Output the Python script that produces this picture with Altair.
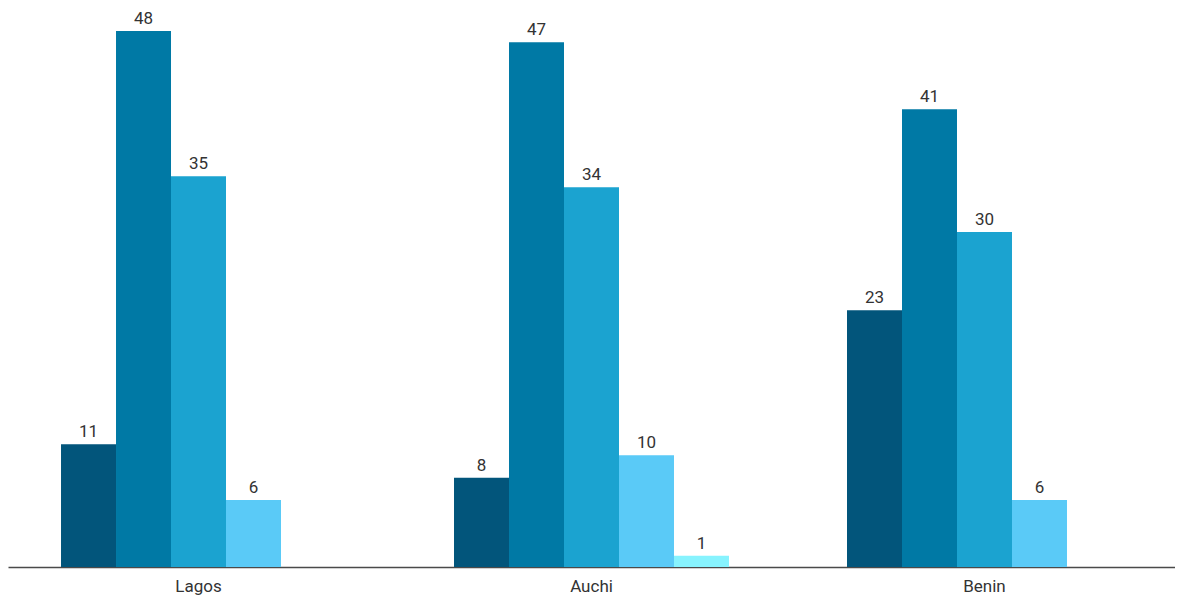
import altair as alt
import pandas as pd

cities = ["Lagos", "Auchi", "Benin"]
series = ["S1", "S2", "S3", "S4", "S5"]
colors = ["#02557b", "#0079a5", "#1ba3d0", "#5acaf7", "#87f3fe"]

lagos = [11, 48, 35, 6, None]
auchi = [8, 47, 34, 10, 1]
benin = [23, 41, 30, 6, None]

rows = []
for city, vals in zip(cities, [lagos, auchi, benin]):
    for s, v in zip(series, vals):
        if v is not None:
            rows.append({"city": city, "series": s, "value": v})
df = pd.DataFrame(rows)

x = alt.X("city:N", sort=cities, title=None,
          scale=alt.Scale(paddingInner=0.3003, paddingOuter=0.1349),
          axis=alt.Axis(labelAngle=0, ticks=False, domainColor="#4a4a4a", domainWidth=1.5,
                        labelFont="Roboto", labelFontSize=17, labelColor="#333333",
                        labelPadding=11, grid=False))
xo = alt.XOffset("series:N", scale=alt.Scale(domain=series, paddingInner=0, paddingOuter=0))
y = alt.Y("value:Q", scale=alt.Scale(domain=[0, 50.06], nice=False, zero=True), axis=None)

base = alt.Chart(df).encode(x=x, xOffset=xo, y=y)

bars = base.mark_bar().encode(
    color=alt.Color("series:N", scale=alt.Scale(domain=series, range=colors), legend=None)
)
labels = base.mark_text(dy=-7, baseline="alphabetic", font="Roboto", fontSize=17,
                        color="#333333").encode(text="value:Q")

chart = (bars + labels).properties(
    width=1167, height=559,
    autosize=alt.AutoSizeParams(type="none"),
    padding={"left": 0, "top": 0, "right": 0, "bottom": 32},
).configure_view(stroke=None)
chart.save("out.html", embed_options={"renderer": "svg", "actions": False})
